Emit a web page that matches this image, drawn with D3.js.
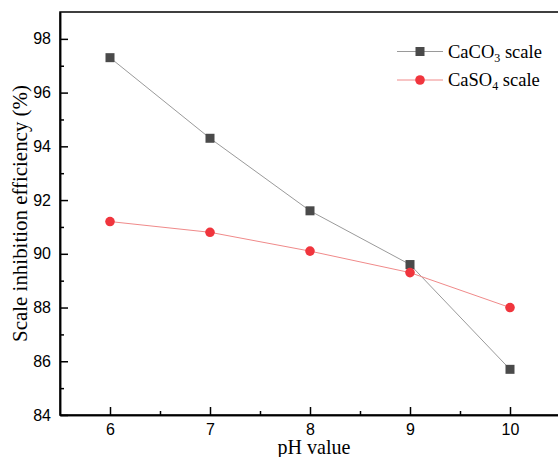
<!DOCTYPE html>
<html><head><meta charset="utf-8">
<script src="https://cdn.jsdelivr.net/npm/d3@7"></script>
<style>body{margin:0;background:#fff}svg{display:block}</style>
</head><body>
<svg id="c" width="558" height="457"></svg>
<script>
const phValues = [6, 7, 8, 9, 10];
const caco3 = [97.3, 94.3, 91.6, 89.6, 85.7];
const caso4 = [91.2, 90.8, 90.1, 89.3, 88.0];
const xTicks = [6, 7, 8, 9, 10];
const yTicks = [84, 86, 88, 90, 92, 94, 96, 98];

const svg = d3.select("#c");
const m = {l: 60, t: 12, r: 560, b: 415};
const x = d3.scaleLinear().domain([5.5, 10.5]).range([m.l, m.r]);
const y = d3.scaleLinear().domain([84, 99]).range([m.b, m.t]);
const serif = "Liberation Serif, Times New Roman, serif";

function fit(sel, target) {
  const fs = +sel.attr("font-size");
  const w = sel.node().getComputedTextLength();
  if (w > 0) sel.attr("font-size", fs * target / w);
}

// frame
svg.append("rect").attr("x", m.l).attr("y", m.t).attr("width", m.r - m.l).attr("height", m.b - m.t)
  .attr("fill", "none").attr("stroke", "#000").attr("stroke-width", 1.5);

// x axis
const xAxis = svg.append("g").attr("transform", `translate(0,${m.b})`)
  .call(d3.axisBottom(x).tickValues(xTicks).tickFormat(d3.format("d")).tickSizeInner(-8).tickSizeOuter(0));
xAxis.selectAll(".tick text").attr("dy", 0).attr("y", 19.5);
svg.append("g").attr("transform", `translate(0,${m.b})`)
  .call(d3.axisBottom(x).tickValues([6.5, 7.5, 8.5, 9.5]).tickFormat("").tickSizeInner(-4).tickSizeOuter(0));

// y axis
const yAxis = svg.append("g").attr("transform", `translate(${m.l},0)`)
  .call(d3.axisLeft(y).tickValues(yTicks).tickFormat(d3.format("d")).tickSizeInner(-8).tickSizeOuter(0));
yAxis.selectAll(".tick text").attr("x", -9);
svg.append("g").attr("transform", `translate(${m.l},0)`)
  .call(d3.axisLeft(y).tickValues([85, 87, 89, 91, 93, 95, 97]).tickFormat("").tickSizeInner(-4).tickSizeOuter(0));

svg.selectAll(".domain").attr("stroke", "#000").attr("stroke-width", 1.5);
svg.selectAll(".tick line").attr("stroke", "#000").attr("stroke-width", 1.5);
svg.selectAll(".tick text").attr("font-family", "Liberation Sans, Arial, sans-serif").attr("font-size", 16).attr("fill", "#000");

// titles
const xt = svg.append("text").attr("x", 314).attr("y", 454).attr("text-anchor", "middle")
  .attr("font-family", serif).attr("font-size", 19).text("pH value");
fit(xt, 73);
const yt = svg.append("text").attr("transform", "translate(27,213.5) rotate(-90)").attr("text-anchor", "middle")
  .attr("font-family", serif).attr("font-size", 19).text("Scale inhibition efficiency (%)");
fit(yt, 257);

// series
const series = [
  {name: "CaCO", sub: "3", vals: caco3, line: "#9a9a9a", fill: "#4a4a4a", shape: "square"},
  {name: "CaSO", sub: "4", vals: caso4, line: "#f08a8a", fill: "#f0353d", shape: "circle"}
];
const lineGen = d3.line().x(d => x(d[0])).y(d => y(d[1]));
series.forEach(s => {
  const pts = phValues.map((p, i) => [p, s.vals[i]]);
  svg.append("path").datum(pts).attr("d", lineGen).attr("fill", "none").attr("stroke", s.line).attr("stroke-width", 1);
  if (s.shape === "square") {
    svg.selectAll(null).data(pts).enter().append("rect")
      .attr("x", d => x(d[0]) - 4.5).attr("y", d => y(d[1]) - 4.5).attr("width", 9).attr("height", 9)
      .attr("fill", s.fill);
  } else {
    svg.selectAll(null).data(pts).enter().append("circle")
      .attr("cx", d => x(d[0])).attr("cy", d => y(d[1])).attr("r", 4.8).attr("fill", s.fill);
  }
});

// legend
series.forEach((s, i) => {
  const ly = 51.5 + i * 28.5;
  svg.append("line").attr("x1", 397).attr("x2", 443).attr("y1", ly).attr("y2", ly).attr("stroke", s.line).attr("stroke-width", 1);
  if (s.shape === "square") svg.append("rect").attr("x", 420 - 4.5).attr("y", ly - 4.5).attr("width", 9).attr("height", 9).attr("fill", s.fill);
  else svg.append("circle").attr("cx", 420).attr("cy", ly).attr("r", 4.8).attr("fill", s.fill);
  const t = svg.append("text").attr("x", 448).attr("y", ly + 6)
    .attr("font-family", serif).attr("font-size", 18.5);
  t.append("tspan").text(s.name);
  t.append("tspan").attr("font-size", 12).attr("dy", 4).text(s.sub);
  t.append("tspan").attr("dy", -4).text(" scale");
});
</script>
</body></html>
